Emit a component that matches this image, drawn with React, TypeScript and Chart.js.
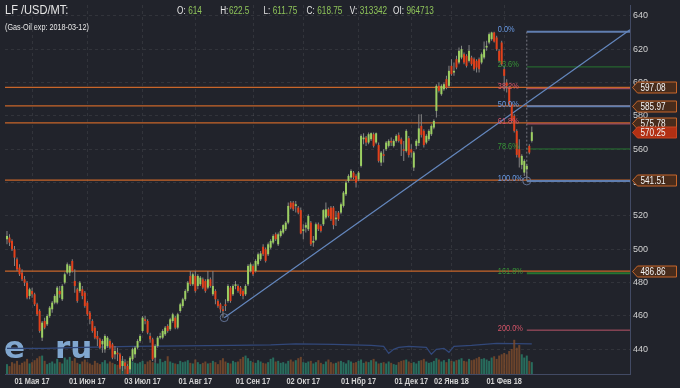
import React, { useEffect, useRef } from 'react';
import { Chart, registerables } from 'chart.js';

Chart.register(...registerables);

// ---------- DATA ----------
// daily candles [open, high, low, close]
const candles: [number, number, number, number][] = [
  [506, 511, 503, 508], [507, 509, 502, 504], [505, 506, 499, 500], [500, 502, 490, 495], [494, 495, 487, 488],
  [489, 491, 484, 485], [486, 488, 481, 482], [482, 484, 478, 480], [480, 481, 470, 471], [472, 477, 470, 476],
  [475, 477, 471, 473], [473, 474, 466, 467], [467, 468, 460, 461], [463, 464, 450, 451], [447, 457, 445, 456],
  [457, 459, 452, 453], [455, 461, 454, 460], [460, 466, 459, 465], [464, 469, 462, 468], [468, 473, 467, 472],
  [468, 478, 467, 477], [475, 478, 471, 473], [470, 479, 469, 478], [480, 486, 479, 485], [486, 492, 485, 491],
  [486, 491, 484, 490], [493, 494, 486, 487], [481, 488, 474, 478], [476, 477, 468, 469], [475, 481, 474, 480],
  [476, 478, 470, 472], [474, 475, 465, 466], [468, 469, 460, 461], [462, 463, 455, 458], [457, 458, 450, 451],
  [453, 454, 446, 447], [448, 451, 442, 446], [446, 447, 440, 441], [443, 446, 438, 445], [440, 449, 438, 448],
  [442, 448, 441, 447], [445, 446, 440, 441], [443, 444, 434, 435], [437, 442, 434, 439], [438, 441, 433, 437],
  [437, 438, 428, 429], [430, 436, 427, 433], [432, 434, 428, 430], [430, 431, 424, 425], [428, 436, 426, 435],
  [434, 441, 433, 440], [437, 442, 435, 441], [441, 446, 440, 445], [445, 449, 444, 448], [451, 460, 450, 459],
  [458, 460, 455, 457], [457, 458, 449, 450], [448, 450, 444, 446], [446, 447, 433, 434], [435, 443, 432, 442],
  [442, 448, 441, 447], [447, 450, 446, 448], [447, 452, 446, 451], [449, 454, 448, 453], [454, 455, 450, 451],
  [452, 459, 451, 458], [457, 462, 456, 461], [459, 460, 452, 453], [453, 462, 452, 461], [463, 468, 462, 467],
  [466, 471, 465, 470], [470, 476, 469, 475], [475, 481, 474, 480], [484, 487, 478, 479], [479, 486, 478, 485],
  [484, 487, 474, 475], [478, 485, 476, 484], [479, 484, 478, 483], [482, 483, 476, 477], [481, 482, 474, 475],
  [477, 487, 476, 482], [482, 483, 477, 478], [473, 487, 472, 478], [475, 476, 467, 470], [469, 470, 465, 466],
  [467, 468, 462, 464], [464, 466, 459, 463], [467, 470, 463, 466], [469, 479, 468, 478], [477, 478, 468, 469],
  [473, 479, 472, 478], [478, 481, 476, 479], [478, 479, 474, 475], [477, 478, 472, 473], [475, 476, 470, 472],
  [473, 479, 472, 478], [479, 491, 478, 490], [487, 492, 486, 491], [490, 491, 484, 485], [487, 494, 486, 493],
  [491, 498, 490, 497], [494, 499, 493, 497.5], [501.5, 503, 496, 497], [500, 501, 492, 493], [497, 504, 496, 503],
  [501, 506, 500, 505], [504, 509, 503, 508], [509, 510, 505, 506], [503, 510, 502, 509], [508, 512, 507, 511],
  [510, 515, 509, 514.5], [512, 517, 511, 516], [516, 528, 515, 526], [528, 529, 524, 525], [528, 529, 523, 524],
  [526, 529, 522, 527], [525, 526, 521, 522], [523.5, 525, 509, 509.5], [511, 515, 506, 512], [513, 516, 510, 514.5],
  [512, 521, 511, 520], [516, 517, 502, 503], [504, 508, 501.5, 505], [505.7, 516, 505, 515], [515, 516, 511, 512],
  [514, 515, 510, 511], [515, 524, 514, 523.5], [519, 528, 518, 524], [524, 525, 519, 520], [525, 526, 517, 518],
  [525, 526, 512, 514.5], [518, 523, 514, 519], [522, 523, 517, 518], [522, 528, 521, 527], [526, 535, 525, 534],
  [533, 541, 532, 540], [541, 545, 540, 544], [543, 548, 542, 547], [546, 547, 542, 543], [544, 545, 537, 540],
  [542, 547, 541, 546], [550, 569, 549, 568], [566, 569.6, 563, 567], [567, 568, 562, 564], [564, 570, 563, 569],
  [566, 570, 565, 569.6], [569, 570, 561, 562], [564, 570, 563, 569.6], [562.5, 564, 552, 553], [552, 559, 550, 558],
  [557, 560, 552, 556], [560, 565, 559, 564], [562, 566, 561, 565], [565, 567, 562, 564], [562, 566, 561, 565],
  [565, 569, 564, 568], [568.6, 570, 564, 565], [566, 567, 556, 563], [560, 565, 553, 559], [559, 572, 558, 571],
  [566.6, 568, 555, 556.5], [560, 563, 555, 558], [549, 559, 547, 558], [562, 566, 560, 565], [563.7, 581, 562, 572.5],
  [574, 581, 567, 568.6], [571, 572, 561, 562.5], [564, 569, 563, 568], [566, 572, 565, 571], [569, 575, 568, 574],
  [573, 578, 572, 577], [583, 599, 579, 598], [598, 600, 594, 595], [593, 599, 592, 598], [596, 600, 595, 599],
  [602, 604, 596, 597], [598, 610, 597, 607], [610, 614, 604, 605], [606, 612, 604, 607], [614, 616, 608, 609],
  [612, 621, 611, 619], [615, 622, 614, 620], [617, 618, 611, 612], [616, 617, 609, 610], [613, 622.5, 612, 619],
  [615, 616, 610, 611], [614, 615, 607, 608], [613, 614, 606, 609], [614, 615, 606, 608], [612, 618, 611, 617],
  [615, 624.6, 614, 620], [621, 625, 619, 622], [624, 630, 623, 629], [626, 630.5, 625, 630], [630, 630.5, 624, 624.6],
  [627, 628, 619, 620], [619, 620, 612, 613], [624, 625, 610, 611], [608, 610, 595, 604], [600, 602, 594, 598],
  [597, 598, 586, 587], [587, 588, 576, 577], [580, 581, 570, 571], [571, 572, 555, 556.6], [560, 566, 549, 555],
  [550.6, 557, 548, 556], [546, 554, 544, 553], [548, 551, 541, 550], [562, 563, 557, 558], [565, 573.7, 564, 570.25],
];

// daily volume, thousands of lots
const volumesK: number[] = [
  150, 120, 180, 160, 200, 140, 170, 190, 230, 160,
  180, 210, 240, 270, 280, 200, 150, 170, 190, 160,
  230, 180, 160, 250, 220, 260, 200, 240, 170, 150,
  190, 220, 180, 160, 140, 200, 170, 150, 180, 210,
  160, 190, 170, 150, 140, 210, 230, 180, 200, 220,
  190, 170, 160, 180, 200, 150, 190, 210, 180, 170,
  160, 230, 180, 200, 270, 190, 170, 160, 150, 200,
  180, 190, 210, 170, 160, 220, 180, 150, 170, 190,
  160, 170, 200, 180, 150, 210, 240, 190, 170, 160,
  200, 180, 190, 230, 260, 280, 240, 200, 180, 170,
  210, 190, 170, 160, 180, 230, 250, 190, 200, 170,
  180, 160, 200, 220, 190, 210, 240, 260, 180, 170,
  190, 200, 160, 180, 210, 170, 150, 190, 220, 180,
  160, 170, 190, 200, 180, 160, 210, 190, 170, 180,
  200, 220, 170, 190, 180, 210, 230, 190, 160, 170,
  180, 160, 190, 170, 150, 140, 180, 200, 210, 220,
  190, 170, 180, 160, 200, 210, 230, 190, 170, 180,
  200, 240, 220, 190, 210, 180, 230, 200, 190, 210,
  220, 240, 200, 190, 230, 210, 220, 240, 260, 230,
  240, 220, 200, 250, 270, 230, 280, 300, 320, 300,
  350, 380, 520, 400, 440, 300, 250, 280, 200, 180,
];

// open interest [candle index, thousands]
const oiPoints: [number, number][] = [
  [0, 806], [15, 806], [30, 837], [50, 868], [70, 883], [90, 899], [105, 915], [115, 945],
  [130, 930], [145, 899], [150, 868], [152, 651], [154, 775], [156, 837], [160, 868], [167, 837],
  [169, 620], [171, 775], [174, 806], [176, 682], [178, 868], [185, 899], [195, 961], [209, 945],
];

const monthTickIdx = [10, 32, 54, 75, 98, 118, 140, 161, 177, 198];
const monthTickLabels = ['01 Мая 17', '01 Июн 17', '03 Июл 17', '01 Авг 17', '01 Сен 17', '02 Окт 17', '01 Нбр 17', '01 Дек 17', '02 Янв 18', '01 Фев 18'];

const levelLines = [597.08, 585.97, 575.78, 541.51, 486.86];
const lastPrice = 570.25;

const fibRatios = [0, 0.236, 0.382, 0.5, 0.618, 0.786, 1, 1.618, 2];
const fibLabels = ['0.0%', '23.6%', '38.2%', '50.0%', '61.8%', '78.6%', '100.0%', '161.8%', '200.0%'];
const fibKinds = ['blue', 'green', 'pink', 'blue', 'pink', 'green', 'blue', 'green', 'pink'];
const fibHigh = 630.5;
const fibLow = 541;
const fibStartIdx = 207;

const trendLine: [number, number][] = [[86.5, 459], [248.1, 631.7]];

const headerLabels = ['O:', 'H:', 'L:', 'C:', 'V:', 'OI:'];
const headerValues = ['614', '622.5', '611.75', '618.75', '313342', '964713'];
const title = 'LF /USD/MT:';
const subtitle = '(Gas-Oil exp: 2018-03-12)';

// ---------- STYLE ----------
const X_MIN = -0.79;
const X_MAX = 248.1;
const BG = '#21232b';
const FONT = "'Liberation Sans', Arial, sans-serif";
const NARROW = 0.82;
const GRID = 'rgba(255,255,255,0.08)';
const AXIS = 'rgb(66,74,100)';
const UP = '#9ccf62';
const DOWN = '#e2401a';
const WICK = '#858585';
const ORANGE = 'rgb(200,102,42)';
const FIB_LINE: Record<string, string> = { blue: 'rgb(96,126,176)', green: 'rgb(38,118,48)', pink: 'rgb(185,85,105)' };
const FIB_TEXT: Record<string, string> = { blue: 'rgb(105,155,230)', green: 'rgb(55,150,55)', pink: 'rgb(215,85,105)' };

function narrowText(ctx: CanvasRenderingContext2D, text: string, x: number, y: number, font: string, color: string, align: CanvasTextAlign = 'left', base: CanvasTextBaseline = 'alphabetic') {
  ctx.save();
  ctx.translate(x, y);
  ctx.scale(NARROW, 1);
  ctx.font = font;
  ctx.fillStyle = color;
  ctx.textAlign = align;
  ctx.textBaseline = base;
  ctx.fillText(text, 0, 0);
  const w = ctx.measureText(text).width * NARROW;
  ctx.restore();
  return w;
}

const overlay = {
  id: 'overlay',
  beforeDatasetsDraw(chart: any) {
    const ctx = chart.ctx as CanvasRenderingContext2D;
    ctx.save();
    ctx.font = "bold 31px 'DejaVu Sans', sans-serif";
    ctx.fillStyle = 'rgba(140,182,225,0.9)';
    ctx.textBaseline = 'alphabetic';
    ctx.fillText('e', 4, 358);
    ctx.fillText('ru', 55, 358);
    ctx.restore();
  },
  afterDraw(chart: any) {
    const ctx = chart.ctx as CanvasRenderingContext2D;
    const xs = chart.scales.x;
    const ys = chart.scales.y;
    ctx.save();
    // x tick labels (condensed, on the library's tick positions)
    xs.ticks.forEach((t: any) => {
      const k = monthTickIdx.indexOf(t.value);
      if (k < 0) return;
      narrowText(ctx, monthTickLabels[k], xs.getPixelForValue(t.value), chart.chartArea.bottom + 3,
        `bold 9px ${FONT}`, '#d2d2d2', 'center', 'top');
    });
    // title
    narrowText(ctx, title, 5, 14, `13.5px ${FONT}`, '#e6e6e6');
    narrowText(ctx, subtitle, 5, 30, `8.8px ${FONT}`, '#e6e6e6');
    // header values
    headerLabels.forEach((l, i) => {
      const x = 177 + i * 43.2;
      const w = narrowText(ctx, l, x, 14, `10px ${FONT}`, '#e6e6e6');
      narrowText(ctx, headerValues[i], x + w + (l === 'H:' ? 0.5 : 2.5), 14, `10px ${FONT}`, '#8fc45a');
    });
    // fib labels
    const xl = xs.getPixelForValue(fibStartIdx) - 29;
    fibRatios.forEach((r, i) => {
      const v = fibHigh - r * (fibHigh - fibLow);
      const y = ys.getPixelForValue(v);
      narrowText(ctx, fibLabels[i], xl, y - 2, `9px ${FONT}`, FIB_TEXT[fibKinds[i]], 'left', 'middle');
    });
    // price tags
    const tag = (v: number, fill: string, stroke: string) => {
      const y = Math.round(ys.getPixelForValue(v)) + 0.5;
      const x0 = chart.chartArea.right + 2.5;
      ctx.beginPath();
      ctx.moveTo(x0, y);
      ctx.lineTo(x0 + 5, y - 5.5);
      ctx.lineTo(x0 + 44, y - 5.5);
      ctx.lineTo(x0 + 44, y + 5.5);
      ctx.lineTo(x0 + 5, y + 5.5);
      ctx.closePath();
      ctx.fillStyle = fill;
      ctx.fill();
      ctx.strokeStyle = stroke;
      ctx.lineWidth = 1;
      ctx.stroke();
      narrowText(ctx, v.toFixed(2), x0 + 8, y + 0.5, `10px ${FONT}`, '#f2f2f2', 'left', 'middle');
    };
    levelLines.forEach((v) => tag(v, 'rgb(72,44,28)', ORANGE));
    tag(lastPrice, 'rgb(178,48,20)', 'rgb(200,70,35)');
    ctx.restore();
  },
};

export default function App() {
  const ref = useRef<HTMLCanvasElement>(null);

  useEffect(() => {
    document.body.style.margin = '0';
    document.body.style.background = BG;
    const canvas = ref.current!;

    const bodyData = candles.map((c, i) => ({ x: i, y: [Math.min(c[0], c[3]), Math.max(c[0], c[3])] }));
    const bodyColors = candles.map((c) => (c[3] >= c[0] ? UP : DOWN));
    const wickData = candles.map((c, i) => ({ x: i, y: [c[2], c[1]] }));
    const volData = volumesK.map((v, i) => ({ x: i, y: v }));
    const volColors = candles.map((c) => (c[3] >= c[0] ? 'rgba(42,128,106,0.8)' : 'rgba(128,76,44,0.8)'));

    const datasets: any[] = [
      {
        type: 'bar', data: bodyData, backgroundColor: bodyColors, barThickness: 2, grouped: false,
        minBarLength: 1, borderWidth: 0, inflateAmount: 0, yAxisID: 'y', order: 0,
      },
      {
        type: 'bar', data: wickData, backgroundColor: WICK, barThickness: 1, grouped: false,
        borderWidth: 0, inflateAmount: 0, yAxisID: 'y', order: 1,
      },
      {
        type: 'line', data: trendLine.map(([x, y]) => ({ x, y })), borderColor: 'rgb(100,135,190)', borderWidth: 1.2,
        pointRadius: [4, 0], pointBorderColor: 'rgba(110,130,170,0.8)', pointBackgroundColor: 'transparent',
        pointBorderWidth: 1, yAxisID: 'y', order: 2,
      },
      {
        type: 'line', data: [{ x: fibStartIdx, y: fibHigh }, { x: fibStartIdx, y: fibLow }],
        borderColor: 'rgba(140,140,150,0.8)', borderWidth: 1, borderDash: [2, 2],
        pointRadius: [0, 4], pointBorderColor: 'rgba(110,130,170,0.8)', pointBackgroundColor: 'transparent',
        pointBorderWidth: 1, yAxisID: 'y', order: 3,
      },
      ...fibRatios.map((r, i) => {
        const v = fibHigh - r * (fibHigh - fibLow);
        const k = fibKinds[i];
        return {
          type: 'line', data: [{ x: fibStartIdx, y: v }, { x: X_MAX, y: v }], borderColor: FIB_LINE[k],
          borderWidth: k === 'blue' || r === 1.618 ? 2 : 1, pointRadius: 0, yAxisID: 'y', order: 3,
        };
      }),
      ...levelLines.map((v) => ({
        type: 'line', data: [{ x: X_MIN, y: v }, { x: X_MAX, y: v }], borderColor: ORANGE,
        borderWidth: 1.3, pointRadius: 0, yAxisID: 'y', order: 4,
      })),
      {
        type: 'bar', data: volData, backgroundColor: volColors, barThickness: 2, grouped: false,
        borderWidth: 0, inflateAmount: 0, yAxisID: 'yVol', order: 5,
      },
      {
        type: 'line', data: oiPoints.map(([x, y]) => ({ x, y })), borderColor: 'rgb(50,72,122)', borderWidth: 1.2,
        pointRadius: 0, tension: 0, yAxisID: 'yOI', order: 6,
      },
    ];

    const chart = new Chart(canvas, {
      type: 'bar',
      data: { datasets },
      options: {
        animation: false,
        responsive: false,
        devicePixelRatio: 1,
        events: [],
        layout: { padding: 0 },
        plugins: { legend: { display: false }, tooltip: { enabled: false } },
        scales: {
          x: {
            type: 'linear',
            position: 'bottom',
            min: X_MIN,
            max: X_MAX,
            offset: false,
            afterBuildTicks: (s: any) => {
              s.ticks = monthTickIdx.map((v) => ({ value: v }));
            },
            afterFit: (s: any) => {
              s.height = 14;
              s.paddingLeft = 0;
              s.paddingRight = 0;
            },
            ticks: { display: false, autoSkip: false, maxRotation: 0 },
            grid: { color: GRID, drawTicks: false, offset: false },
            border: { display: true, color: AXIS, dash: [3, 3] },
          },
          y: {
            type: 'linear',
            position: 'right',
            min: 425.2,
            max: 646.5,
            afterFit: (s: any) => {
              s.width = 50;
              s.paddingTop = 0;
              s.paddingBottom = 0;
            },
            ticks: {
              stepSize: 20,
              includeBounds: false,
              padding: 3,
              color: '#d2d2d2',
              font: { size: 9, family: FONT },
            },
            grid: { color: GRID, drawTicks: false },
            border: { display: true, color: AXIS, dash: [3, 3] },
          },
          yVol: { type: 'linear', display: false, min: 0, max: 5610 },
          yOI: { type: 'linear', display: false, min: 0, max: 11600 },
        },
      } as any,
      plugins: [overlay],
    });

    return () => chart.destroy();
  }, []);

  return (
    <div style={{ width: 680, height: 388, background: BG }}>
      <canvas ref={ref} width={680} height={388} style={{ display: 'block', width: 680, height: 388 }} />
    </div>
  );
}
